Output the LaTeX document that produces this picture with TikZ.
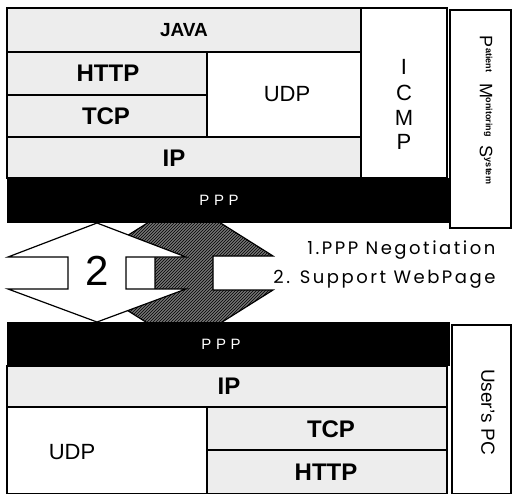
\documentclass[tikz,border=0pt]{standalone}
\usepackage{fontspec}
\setmainfont{Liberation Sans}
\newfontfamily\notefont{Poppins}
\usetikzlibrary{patterns}

\newcommand{\pmsbig}[1]{{\fontsize{18}{18}\selectfont #1}}
\newcommand{\pmssmall}[1]{\raisebox{6pt}{\bfseries\fontsize{9}{9}\selectfont #1}}

\tikzset{
  layer/.style={draw=black, line width=1.2pt},
  grainy/.style={layer, fill=black!7},
  plain/.style={layer, fill=white},
  proto/.style={font=\bfseries\fontsize{24}{24}\selectfont},
  thinproto/.style={font=\fontsize{22}{22}\selectfont},
  pppfont/.style={font=\fontsize{15}{15}\selectfont\addfontfeature{LetterSpace=30}, text=white},
  notes/.style={anchor=east, font=\notefont\fontsize{18}{18}\selectfont\addfontfeature{LetterSpace=14}},
}

\begin{document}
\begin{tikzpicture}[x=1pt, y=-1pt]
\useasboundingbox (0,0) rectangle (513,493);

% negotiation arrows (grey one behind the white one)
\filldraw[line width=1.2pt, fill=black!55, postaction={pattern=north east lines}]
  (184,200) -- (273,256) -- (213,256) -- (213,290) -- (273,290) -- (184,346)
  -- (95,290) -- (155,290) -- (155,256) -- (95,256) -- cycle;
\filldraw[line width=1.2pt, fill=white]
  (97,223) -- (186,257) -- (126,257) -- (126,289) -- (186,289) -- (97,322)
  -- (8,289) -- (68,289) -- (68,257) -- (8,257) -- cycle;
\node[font=\fontsize{42}{42}\selectfont] (two) at (97,271) {2};

% monitoring system stack
\draw[grainy] (7,8) rectangle (361,52);
\draw[grainy] (7,52) rectangle (207,95);
\draw[grainy] (7,95) rectangle (207,137);
\draw[plain]  (207,52) rectangle (361,137);
\draw[grainy] (7,137) rectangle (361,178);
\draw[plain]  (361,8) rectangle (447,178);
\fill[black]  (7,178) rectangle (450,223);
\draw[plain]  (450,10) rectangle (511,228);
\node[proto, font=\bfseries\fontsize{19}{19}\selectfont] (javaU) at (184,30) {JAVA};
\node[proto] (httpU) at (108,73) {HTTP};
\node[proto] (tcpU) at (106,116) {TCP};
\node[thinproto] (udpU) at (287,94) {UDP};
\node[proto] (ipU) at (174,158) {IP};
\foreach \ch/\yy in {I/67, C/93, M/118, P/142}{
  \node[thinproto] (icmp\ch) at (404,\yy) {\ch};
}
\node[pppfont] (pppU) at (219,200) {PPP};
\node[rotate=-90] (pms) at (486,110)
  {\pmsbig{P}\pmssmall{atient}\hspace{11pt}\pmsbig{M}\pmssmall{onitoring}\hspace{9pt}\pmsbig{S}\pmssmall{ystem}};

% user side stack
\fill[black]  (7,322) rectangle (450,366);
\draw[grainy] (7,366) rectangle (447,407);
\draw[plain]  (7,407) rectangle (207,494);
\draw[grainy] (207,407) rectangle (447,450);
\draw[grainy] (207,450) rectangle (447,494);
\draw[plain]  (452,325) rectangle (511,494);
\node[pppfont] (pppL) at (221,344) {PPP};
\node[proto] (ipL) at (229,386) {IP};
\node[thinproto] (udpL) at (72,452) {UDP};
\node[proto] (tcpL) at (331,429) {TCP};
\node[proto] (httpL) at (326,472) {HTTP};
\node[rotate=-90, font=\fontsize{19}{19}\selectfont] (upc) at (488,412) {User's PC};

% notes
\node[notes] (note1) at (499,250) {1.PPP Negotiation};
\node[notes] (note2) at (499,279) {2. Support WebPage};
\end{tikzpicture}
\end{document}
